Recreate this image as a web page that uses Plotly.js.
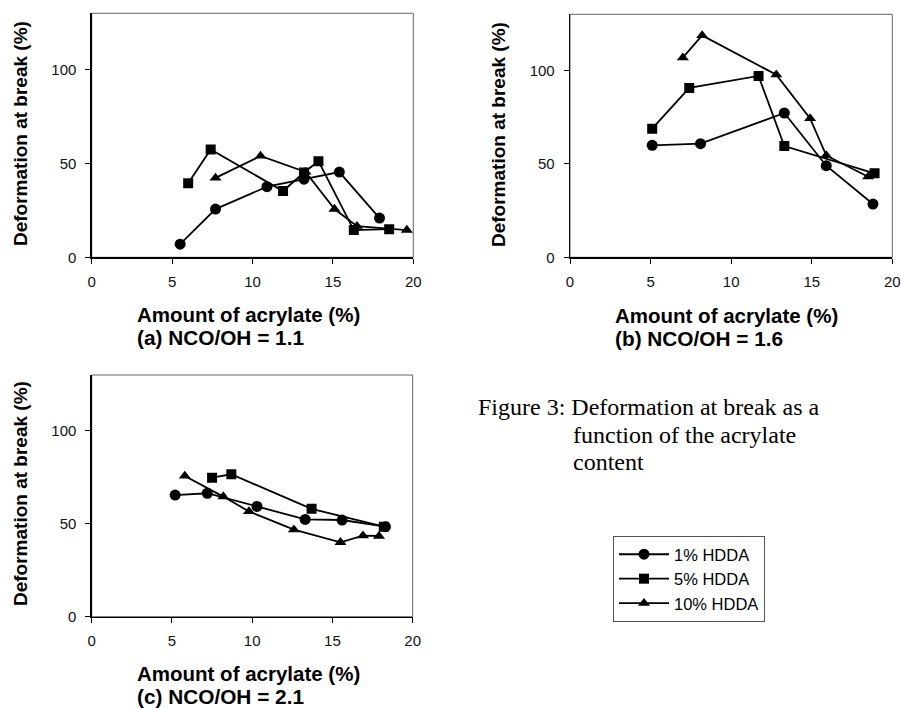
<!DOCTYPE html>
<html>
<head>
<meta charset="utf-8">
<script src="https://cdn.plot.ly/plotly-3.0.1.min.js"></script>
<style>html,body{margin:0;padding:0;background:#fff;}#chart{width:901px;height:708px;}</style>
</head>
<body>
<div id="chart"></div>
<script>
// Series names
const seriesNames = ['1% HDDA', '5% HDDA', '10% HDDA'];

// (a) NCO/OH = 1.1
const xA1 = [5.5, 7.7, 10.9, 13.2, 15.4, 17.9];
const yA1 = [7, 25.7, 37.6, 41.6, 45.4, 20.9];
const xA5 = [6.0, 7.4, 11.9, 13.2, 14.1, 16.3, 18.5];
const yA5 = [39.5, 57.4, 35.3, 45.2, 51.2, 14.5, 15];
const xA10 = [7.7, 10.5, 13.3, 15.1, 16.5, 19.6];
const yA10 = [42.3, 54, 45.5, 25.7, 16.6, 14.5];

// (b) NCO/OH = 1.6
const xB1 = [5.1, 8.1, 13.3, 15.9, 18.8];
const yB1 = [59.9, 60.8, 77.2, 49, 28.5];
const xB5 = [5.1, 7.4, 11.7, 13.3, 18.9];
const yB5 = [68.8, 90.6, 97, 59.5, 44.9];
const xB10 = [7.0, 8.2, 12.8, 14.9, 15.9, 18.5];
const yB10 = [106.8, 118.7, 97.7, 74.3, 54.5, 43.1];

// (c) NCO/OH = 2.1
const xC1 = [5.2, 7.2, 10.3, 13.3, 15.6, 18.3];
const yC1 = [65.4, 66.4, 59.3, 52.3, 52, 48.4];
const xC5 = [7.5, 8.7, 13.7, 18.2];
const yC5 = [74.8, 76.6, 58, 48.4];
const xC10 = [5.8, 8.2, 9.8, 12.6, 15.5, 16.9, 17.9];
const yC10 = [75.7, 64.6, 56.6, 46.8, 40, 43.6, 43.4];

// Tick values
const xTicks = [0, 5, 10, 15, 20];
const yTicks = [0, 50, 100];

// Text
const xTitle = 'Amount of acrylate (%)';
const yTitle = 'Deformation at break (%)';
const panelLabels = ['(a) NCO/OH = 1.1', '(b) NCO/OH = 1.6', '(c) NCO/OH = 2.1'];
const captionLines = ['Figure 3: Deformation at break as a', 'function of the acrylate', 'content'];

const W = 901, H = 708;
const px = v => v / W;
const py = v => 1 - v / H;

const symbols = ['circle', 'square', 'triangle-up'];
const sizes = [11, 10, 10.5];

function mk(x, y, i, xa, ya, show) {
  return {
    x: x, y: y, type: 'scatter', mode: 'lines+markers',
    name: seriesNames[i], xaxis: xa, yaxis: ya, showlegend: show,
    line: {color: '#000', width: 1.8},
    marker: {symbol: symbols[i], size: sizes[i], color: '#000'}
  };
}

const data = [
  mk(xA1, yA1, 0, 'x', 'y', true),
  mk(xA5, yA5, 1, 'x', 'y', true),
  mk(xA10, yA10, 2, 'x', 'y', true),
  mk(xB1, yB1, 0, 'x2', 'y2', false),
  mk(xB5, yB5, 1, 'x2', 'y2', false),
  mk(xB10, yB10, 2, 'x2', 'y2', false),
  mk(xC1, yC1, 0, 'x3', 'y3', false),
  mk(xC5, yC5, 1, 'x3', 'y3', false),
  mk(xC10, yC10, 2, 'x3', 'y3', false)
];

const tickFont = {family: 'Liberation Sans, Arial, sans-serif', size: 15, color: '#111'};
function xaxis(dom, anchor) {
  return {
    domain: dom, anchor: anchor, range: [0, 20], tickvals: xTicks, ticktext: xTicks.map(String),
    showgrid: false, zeroline: false, showline: true, linecolor: '#000', linewidth: 1.3,
    ticks: 'outside', ticklen: 5, tickcolor: '#000', tickwidth: 1, ticklabelstandoff: 5,
    tickfont: tickFont, fixedrange: true
  };
}
function yaxis(dom, anchor) {
  return {
    domain: dom, anchor: anchor, range: [0, 130], tickvals: yTicks, ticktext: yTicks.map(String),
    showgrid: false, zeroline: false, showline: true, linecolor: '#000', linewidth: 1.3,
    ticks: 'outside', ticklen: 5, tickcolor: '#000', tickwidth: 1, ticklabelstandoff: 6,
    tickfont: tickFont, fixedrange: true
  };
}

const dA = {x: [px(91.7), px(413.3)], y: [py(257.3), py(13.3)]};
const dB = {x: [px(570), px(892.3)], y: [py(257.3), py(14.3)]};
const dC = {x: [px(91.7), px(412.7)], y: [py(616.7), py(375)]};

// base font 18 sets the line spacing; inner spans set the visible size
const blockFont = {family: 'Liberation Sans, Arial, sans-serif', size: 18, color: '#000'};
const ytFont = {family: 'Liberation Sans, Arial, sans-serif', size: 19, color: '#000', weight: 'bold'};
const capFont = {family: 'Liberation Serif, Times New Roman, serif', size: 24, color: '#000'};

function titleBlock(label, x, y) {
  return {
    text: '<span style="font-size:20.5px"><b>' + xTitle + '</b></span><br>' +
          '<span style="font-size:20.8px"><b>' + label + '</b></span>',
    x: px(x), y: py(y), xref: 'paper', yref: 'paper', showarrow: false,
    font: blockFont, xanchor: 'left', yanchor: 'middle', align: 'left'
  };
}
function yTitleAnn(x, y) {
  return {text: '<b>' + yTitle + '</b>', x: px(x), y: py(y), xref: 'paper', yref: 'paper',
    showarrow: false, font: ytFont, textangle: -90, xanchor: 'center', yanchor: 'middle'};
}
function capAnn(i, x, y) {
  return {text: captionLines[i], x: px(x), y: py(y), xref: 'paper', yref: 'paper',
    showarrow: false, font: capFont, xanchor: 'left', yanchor: 'middle'};
}

const annotations = [
  titleBlock(panelLabels[0], 135, 326),
  titleBlock(panelLabels[1], 613, 327),
  titleBlock(panelLabels[2], 135, 685),
  yTitleAnn(21, 134),
  yTitleAnn(499, 134),
  yTitleAnn(21, 494),
  capAnn(0, 476, 407),
  capAnn(1, 571, 435),
  capAnn(2, 571, 462)
];

function frame(xr, yr) {
  return {type: 'rect', xref: xr + ' domain', yref: yr + ' domain', x0: 0, x1: 1, y0: 0, y1: 1,
    line: {color: '#666', width: 1}, layer: 'below'};
}

const layout = {
  width: W, height: H,
  margin: {l: 0, r: 0, t: 0, b: 0},
  paper_bgcolor: '#fff', plot_bgcolor: '#fff',
  font: {family: 'Liberation Sans, Arial, sans-serif', color: '#000'},
  xaxis: xaxis(dA.x, 'y'), yaxis: yaxis(dA.y, 'x'),
  xaxis2: xaxis(dB.x, 'y2'), yaxis2: yaxis(dB.y, 'x2'),
  xaxis3: xaxis(dC.x, 'y3'), yaxis3: yaxis(dC.y, 'x3'),
  annotations: annotations,
  shapes: [frame('x', 'y'), frame('x2', 'y2'), frame('x3', 'y3')],
  showlegend: true,
  legend: {
    x: px(613), y: py(536), xanchor: 'left', yanchor: 'top',
    bgcolor: '#fff', bordercolor: '#555', borderwidth: 1,
    font: {family: 'Liberation Sans, Arial, sans-serif', size: 16.5, color: '#000'},
    itemwidth: 50,
    tracegroupgap: 0, itemclick: false, itemdoubleclick: false
  }
};

Plotly.newPlot('chart', data, layout, {staticPlot: true, displayModeBar: false});
</script>
</body>
</html>
